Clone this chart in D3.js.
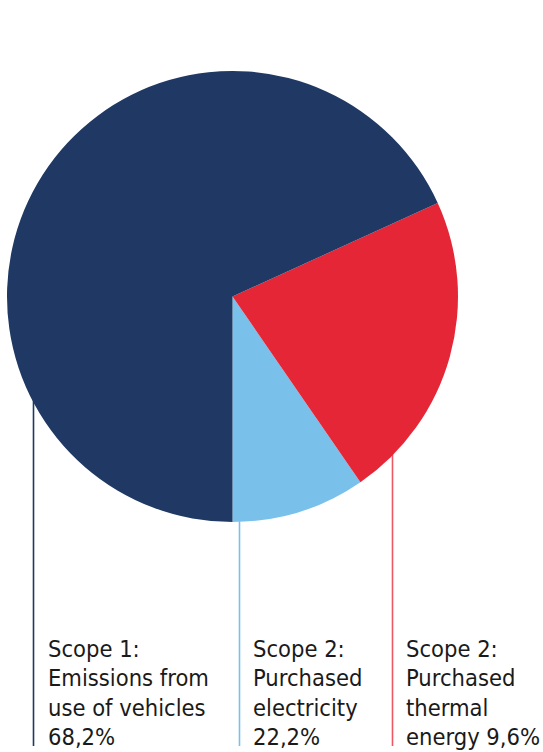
<!DOCTYPE html>
<html lang="en">
<head>
<meta charset="utf-8">
<title>emissions pie</title>
<script src="https://cdn.jsdelivr.net/npm/d3@7"></script>
<style>
  body { margin: 0; background: #fff; }
  text { font-family: "DejaVu Sans Condensed", "DejaVu Sans", sans-serif; fill: #1a1a1a; }
</style>
</head>
<body>
<svg width="543" height="752"></svg>
<script>
// slices in drawing order, counter-clockwise from 6 o'clock
var sliceNames = ["light", "red", "navy"];
var sliceValues = [9.6, 22.2, 68.2];
var sliceColors = ["#79c1eb", "#e52636", "#1f3964"];

// labels under the pie (text as in the original)
var labelLines = [
  ["Scope 1:", "Emissions from", "use of vehicles", "68,2%"],
  ["Scope 2:", "Purchased", "electricity", "22,2%"],
  ["Scope 2:", "Purchased", "thermal", "energy 9,6%"]
];
var lineColors = ["#1f3964", "#79c1eb", "#ee5864"];

var svg = d3.select("svg");
var cx = 232.5, cy = 296.5, r = 225.5;

// leader lines, drawn first so the pie sits on top
var lineX = [33.5, 239.5, 392.5];
svg.selectAll("line.leader")
  .data(lineX)
  .enter()
    .append("line")
      .classed("leader", true)
      .attr("x1", function (d) { return d })
      .attr("x2", function (d) { return d })
      .attr("y1", 330)
      .attr("y2", 746)
      .attr("stroke", function (d, i) { return lineColors[i] })
      .attr("stroke-width", 1.6);

var pie = d3.pie()
  .sort(null)
  .startAngle(Math.PI)
  .endAngle(-Math.PI);

var arc = d3.arc().innerRadius(0).outerRadius(r);

svg.append("g")
  .attr("transform", "translate(" + cx + "," + cy + ")")
  .selectAll("path")
  .data(pie(sliceValues))
  .enter()
    .append("path")
      .attr("fill", function (d, i) { return sliceColors[i] })
      .attr("d", arc);

// label blocks
var labelX = [48, 253, 406];
var firstBaseline = 657, lineStep = 29.3;

labelLines.forEach(function (lines, k) {
  var t = svg.append("text")
    .attr("font-size", 23.5);
  lines.forEach(function (s, j) {
    t.append("tspan")
      .attr("x", labelX[k])
      .attr("y", firstBaseline + j * lineStep)
      .text(s);
  });
});
</script>
</body>
</html>
